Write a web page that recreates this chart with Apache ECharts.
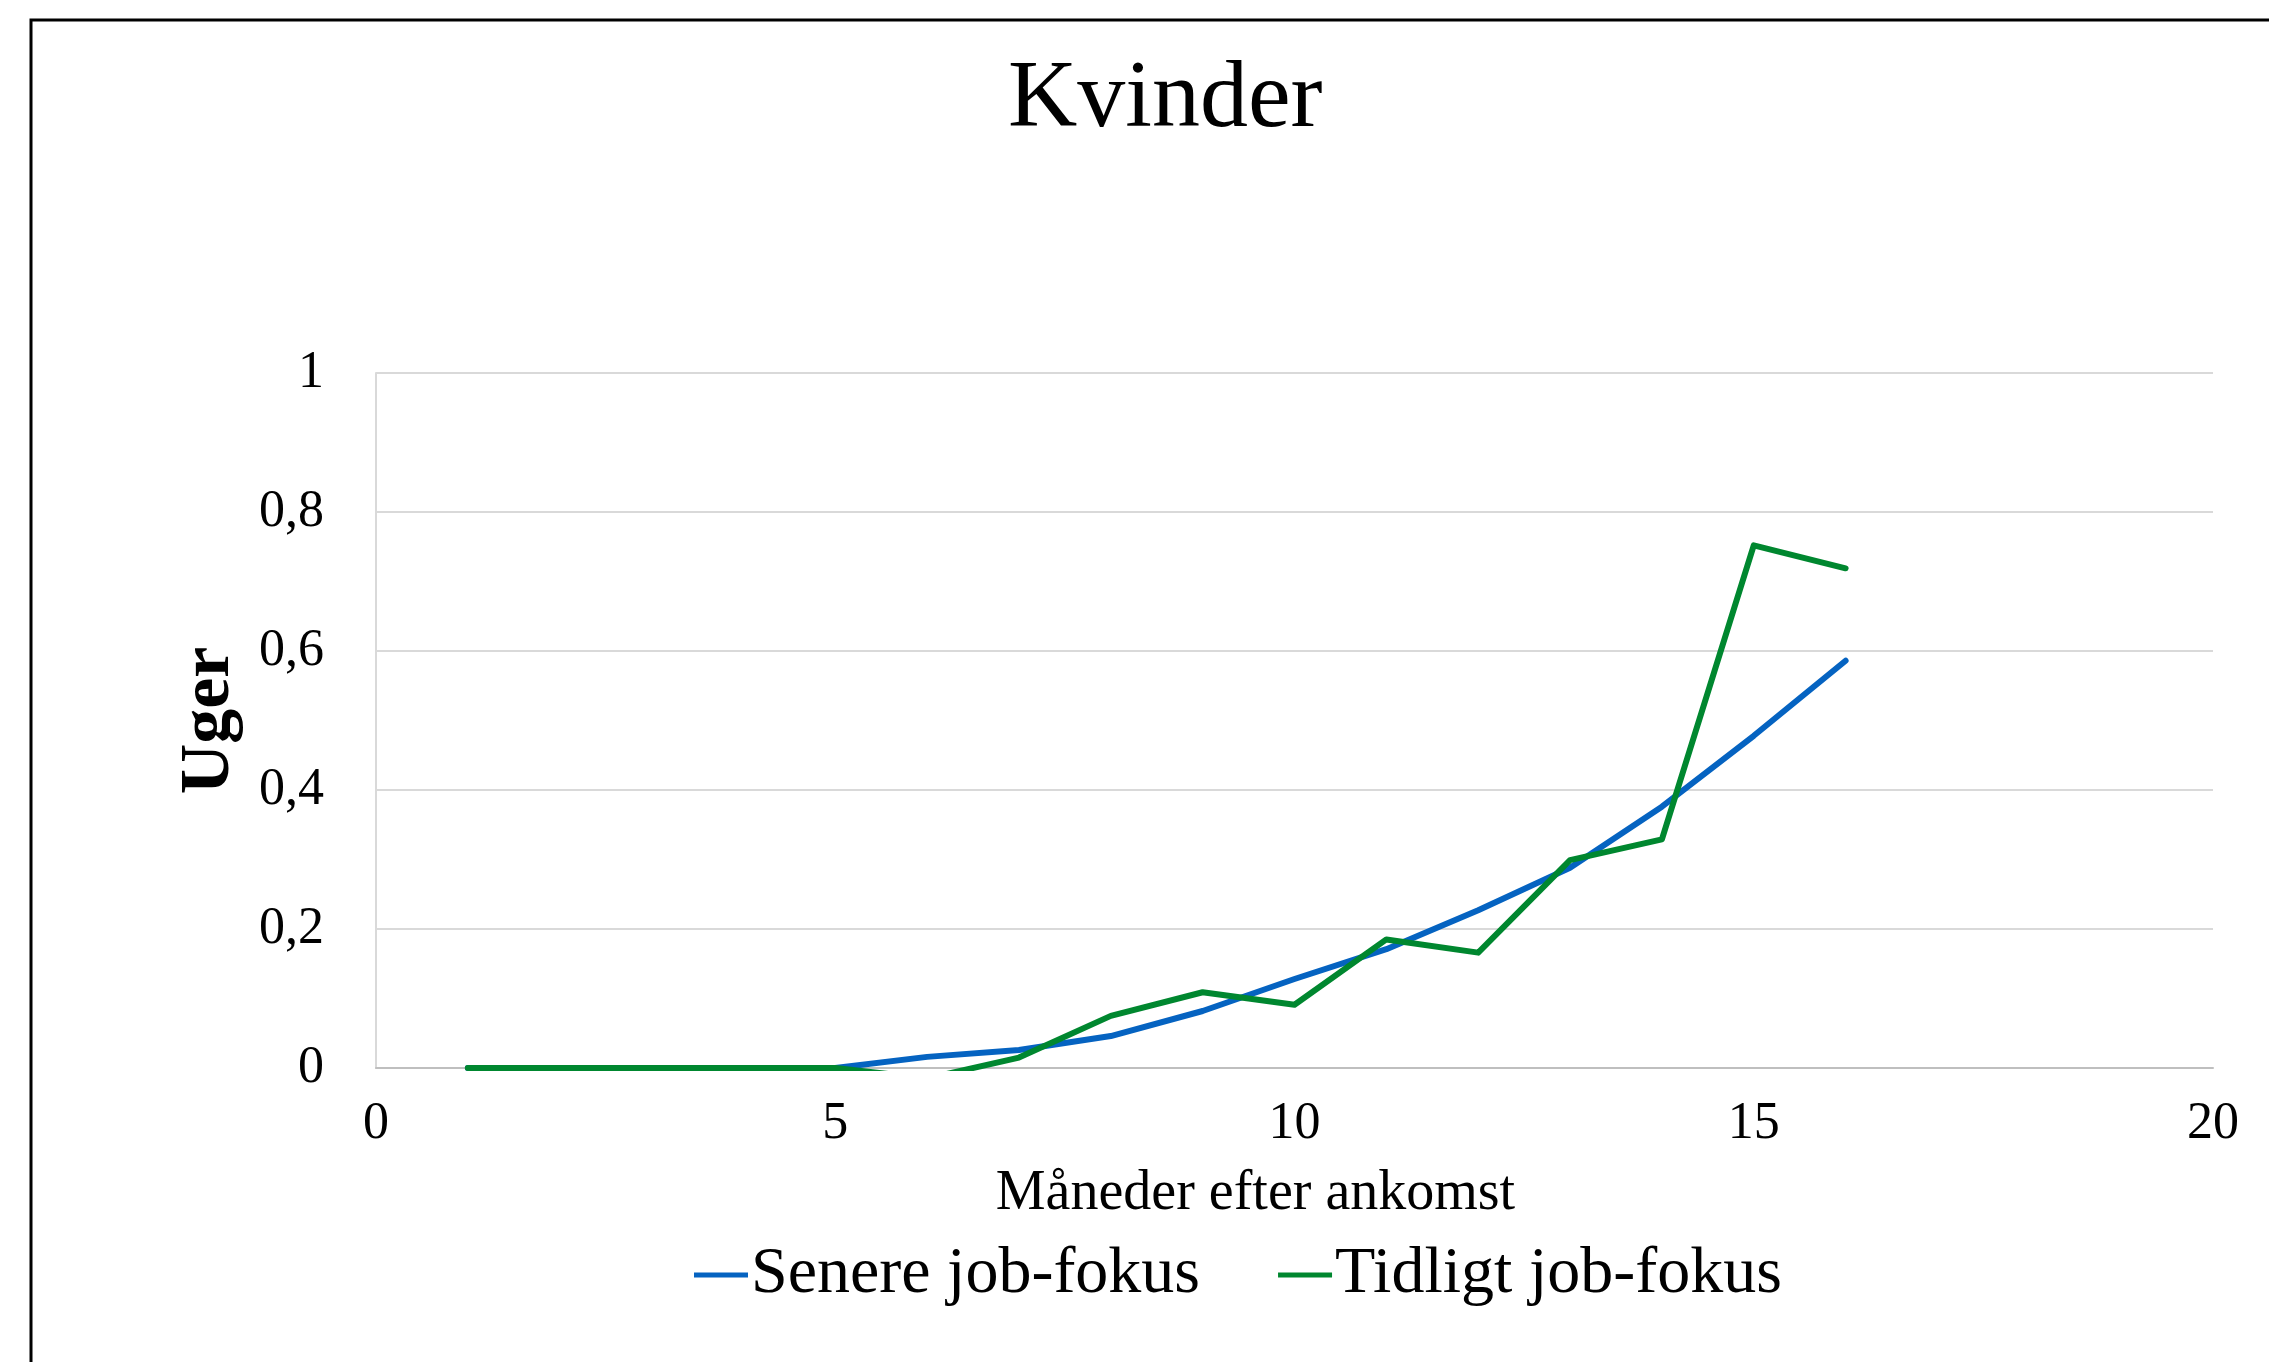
<!DOCTYPE html>
<html>
<head>
<meta charset="utf-8">
<script src="https://cdn.jsdelivr.net/npm/echarts@6/dist/echarts.min.js"></script>
<style>
html,body{margin:0;padding:0;background:#fff;}
#chart{width:2269px;height:1362px;}
</style>
</head>
<body>
<div id="chart"></div>
<script>
var months = [1,2,3,4,5,6,7,8,9,10,11,12,13,14,15,16];
var senere = [0,0,0,0,0,0.016,0.026,0.046,0.082,0.128,0.171,0.227,0.288,0.376,0.478,0.586];
var tidligt = [0,0,0,0,0,-0.015,0.015,0.075,0.109,0.091,0.185,0.166,0.299,0.329,0.752,0.719];
var xTicks = [0,5,10,15,20];
var yTicks = [0,0.2,0.4,0.6,0.8,1];

var FONT = 'Liberation Serif';
function pairs(xs, ys){ return xs.map(function(x,i){ return [x, ys[i]]; }); }

var chart = echarts.init(document.getElementById('chart'));
chart.setOption({
  backgroundColor:'#ffffff',
  animation:false,
  title:{
    text:'Kvinder', left:1003, top:48,
    textStyle:{fontFamily:FONT, fontSize:96, fontWeight:'normal', color:'#000'}
  },
  graphic:[{
    type:'rect', shape:{x:31, y:20, width:2400, height:1500},
    style:{fill:'none', stroke:'#000', lineWidth:3}, silent:true
  }],
  grid:{left:376, right:56, top:373, bottom:294, containLabel:false},
  legend:{
    bottom:49, left:689,
    data:['Senere job-fokus','Tidligt job-fokus'],
    icon:'rect', itemWidth:54, itemHeight:5, itemGap:78,
    textStyle:{fontFamily:FONT, fontSize:66, color:'#000', padding:[0,0,0,-2]}
  },
  xAxis:{
    type:'value', min:xTicks[0], max:xTicks[xTicks.length-1], interval:5,
    name:'Måneder efter ankomst', nameLocation:'middle', nameGap:98,
    nameTextStyle:{fontFamily:FONT, fontSize:56, color:'#000', padding:[0,78,0,0]},
    axisLine:{show:true, lineStyle:{color:'#BFBFBF', width:2}},
    axisTick:{show:false},
    splitLine:{show:false},
    axisLabel:{fontFamily:FONT, fontSize:52, color:'#000', margin:30}
  },
  yAxis:{
    type:'value', min:yTicks[0], max:yTicks[yTicks.length-1], interval:0.2,
    name:'Uger', nameLocation:'middle', nameGap:131, nameRotate:90,
    nameTextStyle:{fontFamily:FONT, fontSize:70, fontWeight:'bold', color:'#000'},
    axisLine:{show:true, lineStyle:{color:'#D9D9D9', width:2}},
    axisTick:{show:false},
    splitLine:{show:true, lineStyle:{color:'#D9D9D9', width:2}},
    axisLabel:{fontFamily:FONT, fontSize:52, color:'#000', margin:52,
      formatter:function(v){ return String(Math.round(v*10)/10).replace('.', ','); }}
  },
  series:[
    {name:'Senere job-fokus', type:'line', data:pairs(months, senere),
     showSymbol:false, symbol:'none', clip:true,
     lineStyle:{color:'#0563C1', width:6, cap:'round', join:'round'},
     itemStyle:{color:'#0563C1'}},
    {name:'Tidligt job-fokus', type:'line', data:pairs(months, tidligt),
     showSymbol:false, symbol:'none', clip:true,
     lineStyle:{color:'#00872F', width:6, cap:'round', join:'round'},
     itemStyle:{color:'#00872F'}}
  ]
});
</script>
</body>
</html>
